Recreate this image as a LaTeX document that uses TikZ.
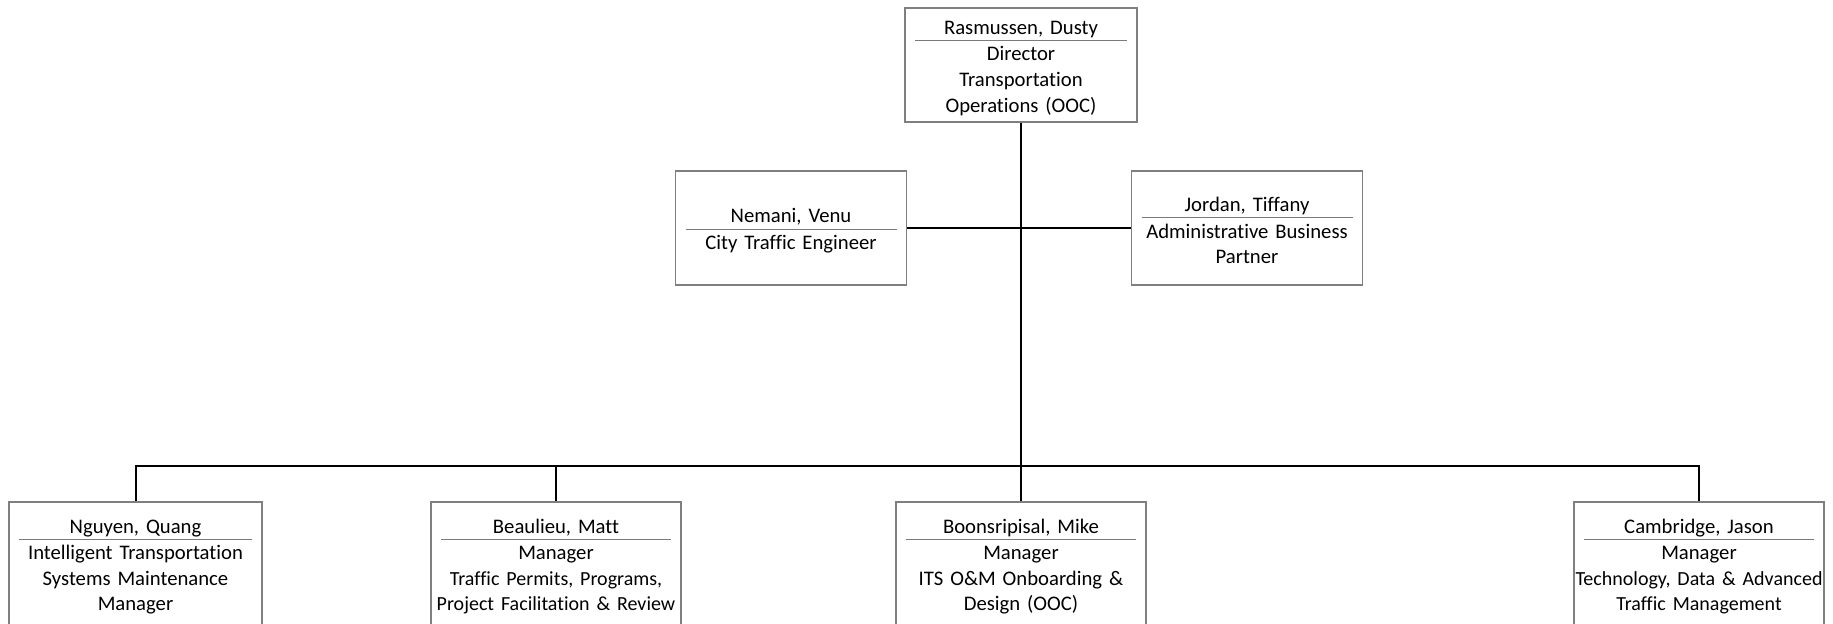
\documentclass[tikz,border=0pt]{standalone}
\usepackage{fontspec}
\setmainfont{Carlito}[Ligatures=NoCommon]
\usepackage{tikz}
\usetikzlibrary{positioning}
\definecolor{frame}{HTML}{7F7F7F}
\definecolor{divider}{HTML}{7A7A7A}
\definecolor{ink}{HTML}{000000}
\tikzset{
  card/.style={draw=frame,line width=0.6pt,fill=white,inner sep=2pt,align=center,text=ink,text width=#1,minimum height=57pt,font=\fontsize{10.35}{12.85}\selectfont},
  topcard/.style={card=112pt},
  staffcard/.style={card=111.5pt},
  mgrcard/.style={card=121pt,minimum height=62pt},
  link/.style={draw=black,line width=1pt},
}
% name, grey rule, title
\newcommand{\person}[2]{\rule{0pt}{9.8pt}#1\\[-9.5pt]{\color{divider}\rule{\dimexpr\hsize-6pt\relax}{0.5pt}}\\[-3pt]#2}
% long title lines, set a bit smaller
\newcommand{\snug}[1]{\makebox[\hsize]{\fontsize{10}{12.85}\selectfont #1}}

\begin{document}
\begin{tikzpicture}[x=0.5pt,y=-0.5pt]
  \useasboundingbox (0,0) rectangle (1833,624);
  \node[topcard] (dir) at (1021,65) {\person{Rasmussen, Dusty}{Director\\Transportation\\Operations (OOC)}};
  \node[staffcard] (nem) at (791,228) {\person{Nemani, Venu}{City Traffic Engineer}};
  \node[staffcard] (jor) at (1247,228) {\person{Jordan, Tiffany}{Administrative Business\\Partner}};
  \node[mgrcard,text width=122.5pt] (ngu) at (135.5,564) {\person{Nguyen, Quang}{Intelligent Transportation\\Systems Maintenance\\Manager}};
  \node[mgrcard] (beau) at (556,564) {\person{Beaulieu, Matt}{Manager\\\snug{Traffic Permits, Programs,}\\\snug{Project Facilitation \& Review}}};
  \node[mgrcard] (boon) at (1021,564) {\person{Boonsripisal, Mike}{Manager\\ITS O\&M Onboarding \&\\Design (OOC)}};
  \node[mgrcard] (camb) at (1699,564) {\person{Cambridge, Jason}{Manager\\\snug{Technology, Data \& Advanced}\\\snug{Traffic Management}}};
  \coordinate (bus) at (1021,466);
  % connectors
  \draw[link] (dir.south) -- (boon.north);
  \draw[link] (nem.east) -- (jor.west);
  \draw[link] (ngu.north) |- (bus) -| (camb.north);
  \draw[link] (beau.north) -- (beau.north |- bus);
\end{tikzpicture}
\end{document}
